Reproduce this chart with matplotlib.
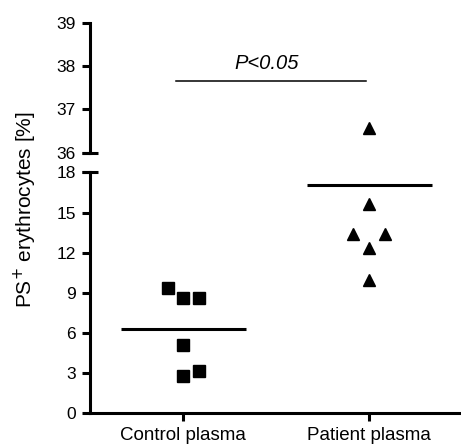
import numpy as np
import matplotlib
matplotlib.use("Agg")
import matplotlib.pyplot as plt

plt.rcParams['font.family'] = ['Liberation Sans', 'DejaVu Sans']

# data
groups = ["Control plasma", "Patient plasma"]
ctrl_vals = [9.4, 8.65, 8.65, 5.1, 2.8, 3.15]
ctrl_jitter = [-0.08, 0.0, 0.085, 0.0, 0.0, 0.085]
pat_vals = [36.58, 15.65, 13.4, 13.4, 12.35, 10.0]
pat_jitter = [0.0, 0.0, -0.085, 0.085, 0.0, 0.0]
means = [6.3, 17.05]
p_text = "P<0.05"
p_level = 37.66

lw = 2.2
fig = plt.figure(figsize=(4.61, 4.47), dpi=100)
ax_lo = fig.add_axes([0.1952, 0.0754, 0.8048, 0.5387])
ax_hi = fig.add_axes([0.1952, 0.6584, 0.8048, 0.2908])

for ax in (ax_lo, ax_hi):
    ax.set_xlim(0.4984, 2.493)
    ax.spines['top'].set_visible(False)
    ax.spines['right'].set_visible(False)
    ax.spines['left'].set_linewidth(lw)
    ax.spines['bottom'].set_linewidth(lw)
    ax.tick_params(axis='both', width=lw, length=6, labelsize=12.5, pad=4)

ax_lo.set_ylim(0, 18)
ax_lo.set_yticks([0, 3, 6, 9, 12, 15, 18])
ax_lo.set_xticks([1, 2])
ax_lo.set_xticklabels(groups, fontsize=13.5)

ax_hi.set_ylim(36, 39)
ax_hi.set_yticks([36, 37, 38, 39])
ax_hi.spines['bottom'].set_visible(False)
ax_hi.set_xticks([])

# caps at the axis break
ax_hi.plot([0], [36], marker='_', ms=12, mew=lw, color='black',
           transform=ax_hi.get_yaxis_transform(), clip_on=False)
ax_lo.plot([0], [18], marker='_', ms=12, mew=lw, color='black',
           transform=ax_lo.get_yaxis_transform(), clip_on=False)

# points
cx = 1 + np.array(ctrl_jitter)
px = 2 + np.array(pat_jitter)
pv = np.array(pat_vals)
ax_lo.plot(cx, ctrl_vals, 's', ms=8, color='black', clip_on=False)
ax_lo.plot(px[pv < 18], pv[pv < 18], '^', ms=8.5, color='black', clip_on=False)
ax_hi.plot(px[pv >= 36], pv[pv >= 36], '^', ms=8.5, color='black', clip_on=False)

# mean lines
for i, m in enumerate(means):
    ax_lo.plot([i + 1 - 0.335, i + 1 + 0.335], [m, m], color='black', lw=2.2,
               solid_capstyle='butt', clip_on=False)

# significance bar
ax_hi.plot([0.96, 1.98], [p_level, p_level], color='black', lw=1.1)
ax_hi.text(1.45, p_level + 0.18, p_text, style='italic', fontsize=14.5,
           ha='center', va='bottom')

fig.text(0.056, 0.532, "PS$^{+}$ erythrocytes [%]", rotation=90,
         fontsize=15, ha='center', va='center')

fig.savefig("out.png", dpi=100)
